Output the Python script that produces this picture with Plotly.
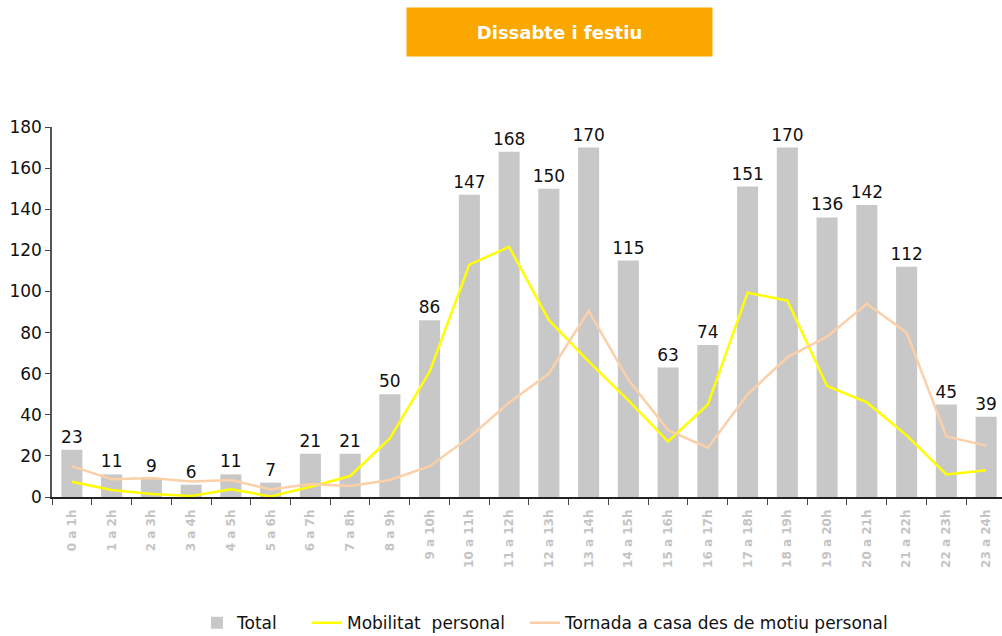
import plotly.graph_objects as go

hours = ["0 a 1h", "1 a 2h", "2 a 3h", "3 a 4h", "4 a 5h", "5 a 6h", "6 a 7h", "7 a 8h",
         "8 a 9h", "9 a 10h", "10 a 11h", "11 a 12h", "12 a 13h", "13 a 14h", "14 a 15h",
         "15 a 16h", "16 a 17h", "17 a 18h", "18 a 19h", "19 a 20h", "20 a 21h",
         "21 a 22h", "22 a 23h", "23 a 24h"]

total = [23, 11, 9, 6, 11, 7, 21, 21, 50, 86, 147, 168, 150, 170, 115, 63, 74, 151,
         170, 136, 142, 112, 45, 39]

mobilitat = [7.4, 3.4, 1.5, 0.5, 3.7, 0.3, 5, 10.2, 28.5, 61, 113, 121.7, 86, 66, 47,
             27, 45, 99.4, 95.5, 54, 46, 30, 11, 13]

tornada = [15, 8.6, 9.2, 7.5, 8.3, 3.7, 6.3, 5.3, 8.3, 15, 29, 46, 60, 90.5, 57, 32.5,
           24, 50, 68, 78, 94, 80, 29.5, 25]

font_main = "DejaVu Sans"

fig = go.Figure()

fig.add_trace(go.Bar(
    x=hours, y=total, name="Total", legend="legend",
    marker=dict(color="#c8c8c8", line=dict(width=0)),
    text=[str(v) for v in total], textposition="outside",
    constraintext="none",
    textfont=dict(family=font_main, size=17, color="#111111"),
    cliponaxis=False,
))

fig.add_trace(go.Scatter(
    x=hours, y=mobilitat, name="Mobilitat  personal", mode="lines", legend="legend2",
    line=dict(color="#ffff00", width=2.5),
))

fig.add_trace(go.Scatter(
    x=hours, y=tornada, name="Tornada a casa des de motiu personal", mode="lines",
    legend="legend3",
    line=dict(color="#fbd0a8", width=2.5),
))


def legend_at(x_px):
    return dict(
        orientation="h", xref="container", yref="container",
        x=x_px / 1002, xanchor="left", y=0.02, yanchor="middle",
        font=dict(family=font_main, size=17, color="#111111"),
        bgcolor="rgba(0,0,0,0)",
    )


fig.update_layout(
    width=1002, height=636,
    margin=dict(l=52, r=0, t=127, b=139),
    paper_bgcolor="white", plot_bgcolor="white",
    bargap=0.47,
    showlegend=True,
    legend=legend_at(197),
    legend2=legend_at(307),
    legend3=legend_at(525),
    annotations=[dict(
        text="<b>Dissabte i festiu</b>", xref="paper", yref="paper",
        x=0.534, y=1.258, xanchor="center", yanchor="middle",
        showarrow=False, bgcolor="#faa800", width=303, height=46,
        font=dict(family="DejaVu Sans", size=18, color="white"),
    )],
)

fig.update_xaxes(
    type="category", range=[-0.5, 23.4], automargin=False,
    showline=True, linecolor="#222222", linewidth=1.5,
    ticks="outside", tickson="boundaries", ticklen=6, tickcolor="#444444",
    tickangle=-90, ticklabelstandoff=6,
    tickfont=dict(family=font_main, size=12, color="#c4c4c4", weight="bold"),
    showgrid=False,
)

fig.update_yaxes(
    range=[0, 180], dtick=20, automargin=False,
    showline=True, linecolor="#555555", linewidth=1.5,
    ticks="outside", ticklen=5, tickcolor="#444444",
    tickfont=dict(family=font_main, size=17, color="#111111"),
    showgrid=False, zeroline=False,
)

fig.write_html("out.html")
